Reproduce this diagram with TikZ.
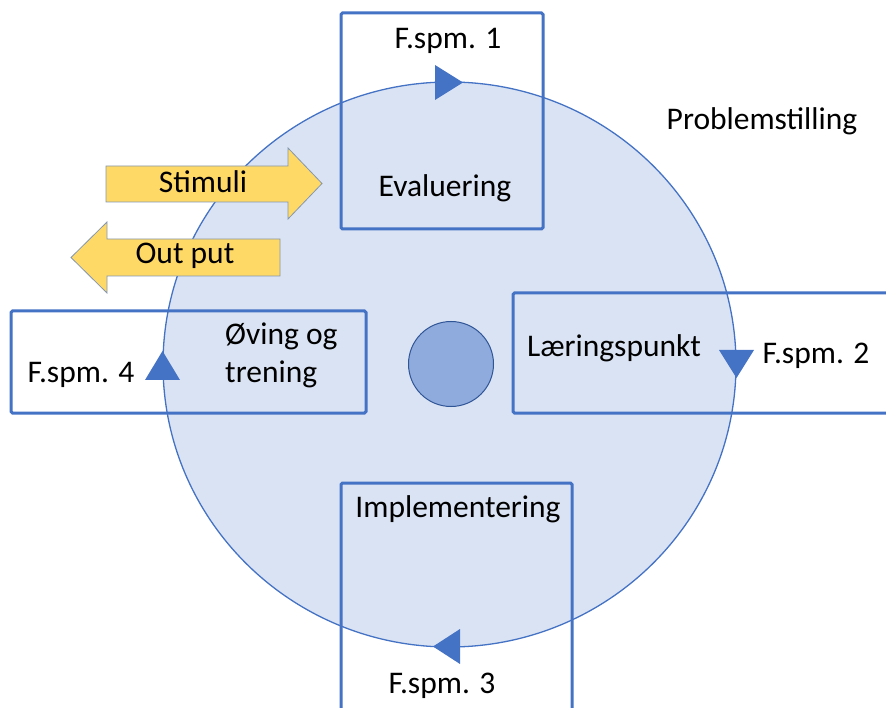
\documentclass[tikz,border=0pt]{standalone}
\usepackage{fontspec}
\setmainfont{Carlito}

\definecolor{ringblaa}{HTML}{4472C4}
\definecolor{ringfyll}{HTML}{DAE3F3}
\definecolor{kjernefyll}{HTML}{8FAADC}
\definecolor{kjernekant}{HTML}{2F5597}
\definecolor{pilfyll}{HTML}{FFD966}
\definecolor{pilkant}{HTML}{8497B0}

\tikzset{ramme/.style = {draw=ringblaa, line width=3pt, rounded corners=1.5pt},
         pil/.style   = {fill=pilfyll, draw=pilkant, line width=0.8pt},
         spiss/.style = {fill=ringblaa},
         tekst/.style = {font=\fontsize{31.5}{38}\selectfont, inner sep=0pt, anchor=base}
        }

\begin{document}
\begin{tikzpicture}[x=1pt, y=-1pt]
  \useasboundingbox (0,0) rectangle (886,708);
  % ring og kjerne
  \draw[fill=ringfyll, draw=ringblaa, line width=1.3pt]
       (449.5,364.5) ellipse [x radius=286.5pt, y radius=282.5pt];
  \node[circle, fill=kjernefyll, draw=kjernekant, line width=1pt,
        minimum size=85pt, inner sep=0pt] (kjerne) at (451,364) {};

  % rammer
  \draw[ramme] (341,13) rectangle (543,229);
  \draw[ramme] (11,311) rectangle (366,413);
  \draw[ramme] (890,293) -- (513,293) -- (513,413) -- (890,413);
  \draw[ramme] (341,712) -- (341,483) -- (572,483) -- (572,712);

  % spisser paa ringen
  \fill[spiss] (435,65) -- (463,82.5) -- (435,100) -- cycle;
  \fill[spiss] (719,350) -- (754,350) -- (736.5,378) -- cycle;
  \fill[spiss] (460,629) -- (433,646.5) -- (460,664) -- cycle;
  \fill[spiss] (145,380) -- (180,380) -- (162.5,351) -- cycle;

  % piler
  \draw[pil] (106,166) -- (288,166) -- (288,148) -- (322,183.5)
             -- (288,219) -- (288,202) -- (106,202) -- cycle;
  \draw[pil] (280,239) -- (107,239) -- (107,222) -- (71,257.5)
             -- (107,293) -- (107,276) -- (280,276) -- cycle;

  % tekster
  \node[tekst] (fspm1)      at (448,49)  {F.spm. 1};
  \node[tekst] (evaluering) at (445,197) {Evaluering};
  \node[tekst] (problem)    at (762,130) {Problemstilling};
  \node[tekst] (laering)    at (614,357) {Læringspunkt};
  \node[tekst] (fspm2)      at (816,363) {F.spm. 2};
  \node[tekst, anchor=base west] (oving)   at (225,345) {Øving og};
  \node[tekst, anchor=base west] (trening) at (225,382) {trening};
  \node[tekst] (fspm4)      at (81,382)  {F.spm. 4};
  \node[tekst] (impl)       at (458,517) {Implementering};
  \node[tekst] (fspm3)      at (442,693) {F.spm. 3};
  \node[tekst] (stimuli)    at (203,193) {Stimuli};
  \node[tekst] (output)     at (185,264) {Out put};
\end{tikzpicture}
\end{document}
